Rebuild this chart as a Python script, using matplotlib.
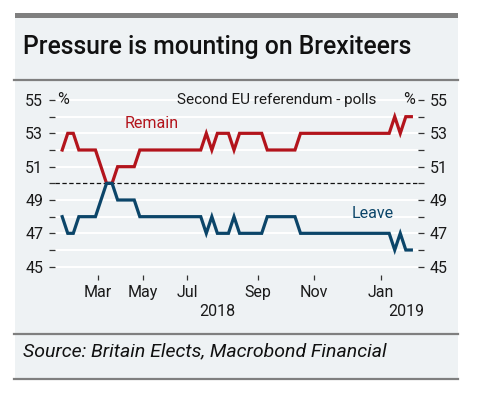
import matplotlib
matplotlib.use("Agg")
import matplotlib.pyplot as plt
from matplotlib.patches import Rectangle
from matplotlib.lines import Line2D
import numpy as np

# poll-by-poll values, Second EU referendum polls (Britain Elects)
remain = [52, 53, 53, 52, 52, 52, 52, 51, 50, 50, 51, 51, 51, 51, 52, 52,
          52, 52, 52, 52, 52, 52, 52, 52, 52, 52, 53, 52, 53, 53, 53, 52,
          53, 53, 53, 53, 53, 52, 52, 52, 52, 52, 52, 53, 53, 53, 53, 53,
          53, 53, 53, 53, 53, 53, 53, 53, 53, 53, 53, 53, 54, 53, 54, 54]
leave = [48, 47, 47, 48, 48, 48, 48, 49, 50, 50, 49, 49, 49, 49, 48, 48,
         48, 48, 48, 48, 48, 48, 48, 48, 48, 48, 47, 48, 47, 47, 47, 48,
         47, 47, 47, 47, 47, 48, 48, 48, 48, 48, 48, 47, 47, 47, 47, 47,
         47, 47, 47, 47, 47, 47, 47, 47, 47, 47, 47, 47, 46, 47, 46, 46]
polls = np.arange(len(remain))

# month ticks fall between polls (irregular poll spacing)
month_ticks = [6.5, 14.6, 22.5, 35.3, 45.4, 57.5]
month_labels = ["Mar", "May", "Jul", "Sep", "Nov", "Jan"]
year_ticks = [27.9, 62.0]
year_labels = ["2018", "2019"]

RED = "#b3141c"
BLUE = "#0b4569"
BG = "#eef2f4"
GREY = "#7f7f7f"
TXT = "#1a1a1a"

W, H = 481, 398
fig = plt.figure(figsize=(W / 100, H / 100), dpi=100)
fig.patch.set_facecolor("white")
plt.rcParams["font.family"] = ["Roboto", "DejaVu Sans"]


def fx(px):
    return px / W


def fy(py):
    return 1 - py / H


# panel
fig.patches.append(Rectangle((fx(15), fy(378)), fx(458) - fx(15), fy(17) - fy(378),
                             transform=fig.transFigure, facecolor=BG, edgecolor="none", zorder=-3))
fig.patches.append(Rectangle((fx(15), fy(18)), fx(458) - fx(15), fy(13) - fy(18),
                             transform=fig.transFigure, facecolor=GREY, edgecolor="none", zorder=-2))
for yy in (79.5, 333.5, 378.5):
    fig.lines.append(Line2D([fx(14), fx(458)], [fy(yy), fy(yy)], transform=fig.transFigure,
                            color=GREY, lw=1.6, zorder=-2))

fig.text(fx(23), fy(47), "Pressure is mounting on Brexiteers", fontsize=17.8,
         weight="medium", color="#111111", va="center", ha="left")
fig.text(fx(23), fy(351), "Source: Britain Elects, Macrobond Financial", fontsize=14,
         style="italic", color="#111111", va="center", ha="left")

# axes
x0, x1, ytop, ybot = 55, 418, 95, 275
ax = fig.add_axes([fx(x0), fy(ybot), fx(x1) - fx(x0), fy(ytop) - fy(ybot)])
ax.set_facecolor("none")
ax.set_xlim(-1.3, 64.2)
ax.set_ylim(44.5, 55.3)
for s in ax.spines.values():
    s.set_visible(False)

for v in range(45, 56):
    if v == 50:
        ax.axhline(v, color="#111111", lw=0.9, ls=(0, (3.5, 2)), zorder=2)
    else:
        ax.axhline(v, color="white", lw=1.4, zorder=1)

ax.plot(polls, remain, color=RED, lw=2.3, zorder=3, solid_joinstyle="miter")
ax.plot(polls, leave, color=BLUE, lw=2.3, zorder=3, solid_joinstyle="miter")

ax.set_yticks(range(45, 56, 2))
ax.set_yticks(range(46, 55, 2), minor=True)
ax.tick_params(axis="y", which="both", left=True, right=True, labelleft=True, labelright=True,
               length=4.5, width=0.9, color="#333333", labelsize=11.5, labelcolor=TXT, pad=4)
ax.set_xticks(month_ticks)
ax.set_xticklabels(month_labels)
ax.tick_params(axis="x", length=3.5, width=0.9, color="#333333", labelsize=11.5,
               labelcolor=TXT, pad=4)

for xt, lab in zip(year_ticks, year_labels):
    ax.annotate(lab, (xt, 0), xycoords=("data", "axes fraction"), xytext=(0, -37),
                textcoords="offset pixels", ha="center", va="center", fontsize=11.5, color=TXT)

ax.annotate("%", (0, 55), xycoords=("axes fraction", "data"), xytext=(2, 0),
            textcoords="offset pixels", ha="left", va="center", fontsize=11.5, color=TXT)
ax.annotate("%", (1, 55), xycoords=("axes fraction", "data"), xytext=(-3, 0),
            textcoords="offset pixels", ha="right", va="center", fontsize=11.5, color=TXT)
ax.text(0.61, 55, "Second EU referendum - polls", transform=ax.get_yaxis_transform(),
        ha="center", va="center", fontsize=11, color=TXT)
ax.text(11.3, 53.6, "Remain", ha="left", va="center", fontsize=11.5, color=RED)
ax.text(52.3, 48.2, "Leave", ha="left", va="center", fontsize=11.5, color=BLUE)

fig.savefig("out.png", dpi=100, facecolor="white")
